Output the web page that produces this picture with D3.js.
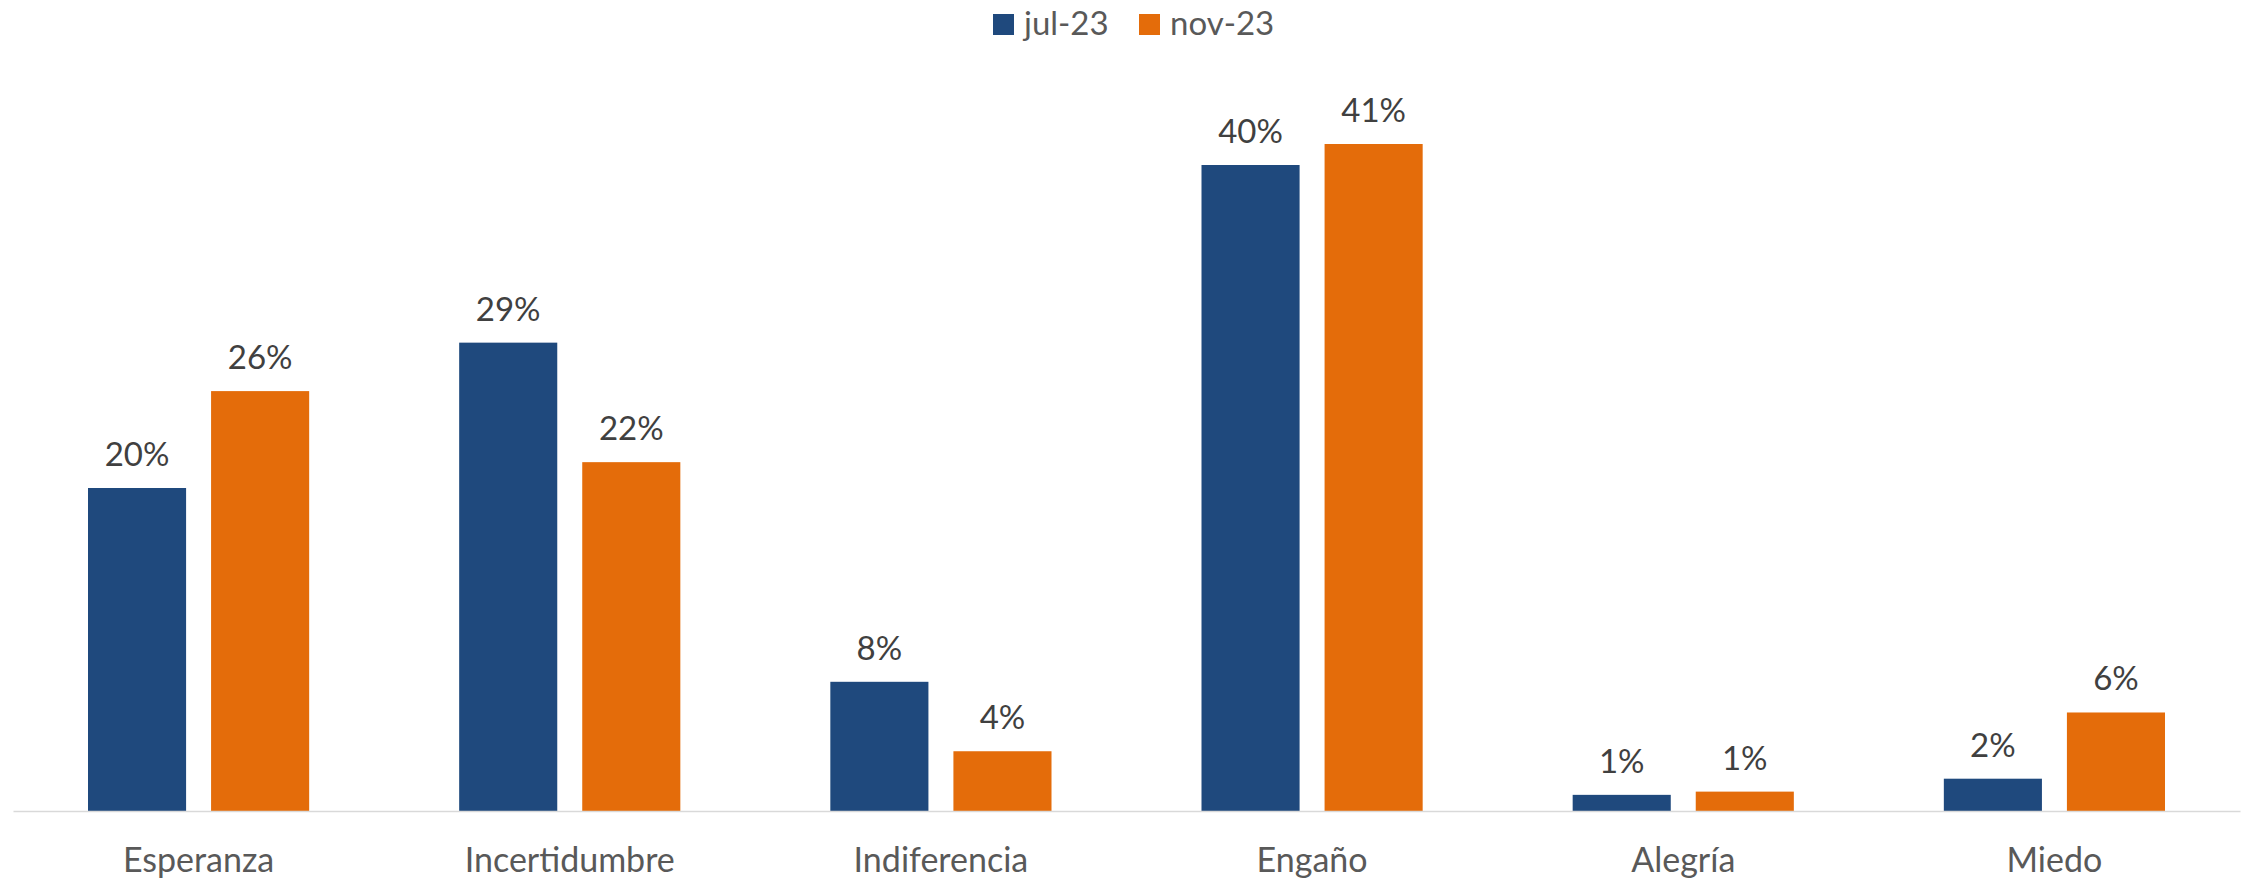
<!DOCTYPE html>
<html>
<head>
<meta charset="utf-8">
<script src="https://cdn.jsdelivr.net/npm/d3@7"></script>
<style>
  html, body { margin: 0; padding: 0; background: #ffffff; }
  svg { display: block; }
  text { font-family: Lato, "Open Sans", sans-serif; }
</style>
</head>
<body>
<svg id="chart" width="2244" height="880"></svg>
<script>
const categories = ["Esperanza", "Incertidumbre", "Indiferencia", "Engaño", "Alegría", "Miedo"];
const seriesNames = ["jul-23", "nov-23"];
const jul23 = [20, 29, 8, 40, 1, 2];
const nov23 = [26, 21.6, 3.7, 41.3, 1.2, 6.1];
const seriesColors = ["#1F497D", "#E46C0A"];

const seriesValues = [jul23, nov23];
const svg = d3.select("#chart");

const x0 = d3.scaleBand().domain(categories).range([13, 2240]).padding(0);
const outer = 75;
const x1 = d3.scaleBand().domain(seriesNames)
  .range([outer, x0.bandwidth() - outer]).paddingInner(0.203).paddingOuter(0);
const y = d3.scaleLinear().domain([0, 45]).range([811, 811 - 45 * 16.15]);
const color = d3.scaleOrdinal().domain(seriesNames).range(seriesColors);
const fmt = v => d3.format(".0f")(v) + "%";

const rows = [];
categories.forEach((c, i) => {
  seriesNames.forEach((s, j) => rows.push({ cat: c, series: s, value: seriesValues[j][i] }));
});

// bars
svg.append("g").selectAll("rect").data(rows).join("rect")
  .attr("x", d => x0(d.cat) + x1(d.series))
  .attr("y", d => y(d.value))
  .attr("width", x1.bandwidth())
  .attr("height", d => y(0) - y(d.value))
  .attr("fill", d => color(d.series));

// data labels
svg.append("g").selectAll("text").data(rows).join("text")
  .attr("x", d => x0(d.cat) + x1(d.series) + x1.bandwidth() / 2)
  .attr("y", d => y(d.value) - 22)
  .attr("text-anchor", "middle")
  .attr("font-size", 33)
  .attr("fill", "#404040")
  .text(d => fmt(d.value));

// x axis
const xAxis = svg.append("g").attr("transform", `translate(0,${y(0)})`)
  .call(d3.axisBottom(x0).tickSize(0).tickPadding(0));
xAxis.select(".domain").attr("stroke", "#D9D9D9").attr("stroke-width", 1.5);
xAxis.selectAll(".tick text")
  .attr("dy", null)
  .attr("y", 61)
  .attr("font-size", 34)
  .attr("font-family", "Lato, 'Open Sans', sans-serif")
  .attr("fill", "#595959");

// legend
const legendItems = [
  { name: seriesNames[0], bx: 993, tx: 1024 },
  { name: seriesNames[1], bx: 1139, tx: 1170 }
];
const lg = svg.append("g");
legendItems.forEach(it => {
  lg.append("rect").attr("x", it.bx).attr("y", 14).attr("width", 21).attr("height", 21)
    .attr("fill", color(it.name));
  lg.append("text").attr("x", it.tx).attr("y", 35)
    .attr("font-size", 33).attr("fill", "#595959").text(it.name);
});
</script>
</body>
</html>
